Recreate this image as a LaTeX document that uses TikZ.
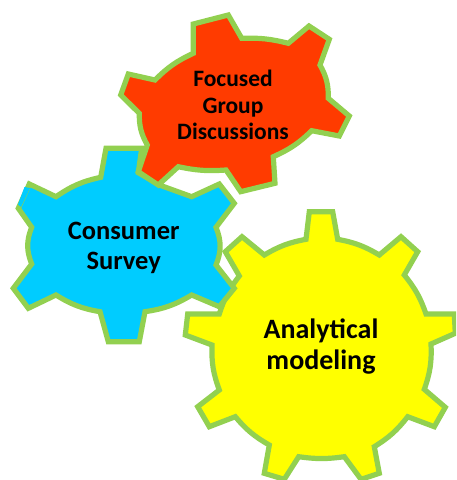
\documentclass[tikz,border=0pt]{standalone}
\usepackage{fontspec}
\setmainfont{Carlito}
\definecolor{gearrim}{HTML}{92D050}
\definecolor{gearred}{HTML}{FF3B00}
\definecolor{gearblue}{HTML}{00CCFF}
\definecolor{gearyellow}{HTML}{FFFF00}
\tikzset{
    gear/.style={draw=gearrim,line width=5.2pt,miter limit=3},
    gearlabel/.style={align=center,text=black},
}
\begin{document}
\begin{tikzpicture}[x=1pt,y=-1pt]
        \useasboundingbox (0,0) rectangle (456,480);
        \begin{scope}
        \clip (0,0) rectangle (456,480);
        % yellow gear
        \draw[gear,fill=gearyellow]
            (309.3,211.7)--(332.7,211.7)--(337.7,239.3) to[bend left=10] (379.3,255)
            --(401,236.7)--(417.7,251.7)--(404.3,275) to[bend left=10] (426,314)
            --(454.3,314)--(455.3,333.3)--(431,344) to[bend left=11] (424.3,389.3)
            --(445.3,407.3)--(434.3,426.7)--(407.7,416.7) to[bend left=10] (374.3,446.7)
            --(379.3,473.3)--(361,479.3)--(344.3,456.7) to[bend left=8] (298.7,456.7)
            --(284.3,479.3)--(264.3,473.3)--(269.3,445) to[bend left=10] (235.3,416.7)
            --(209.3,426.7)--(197.7,406.7)--(219.3,390) to[bend left=11] (212,345)
            --(185.3,335)--(187.7,314)--(219.3,314) to[bend left=10] (239.3,276)
            --(225.3,251.7)--(242,236.7)--(264.3,255) to[bend left=10] (306,239.3)--cycle;
        % blue gear
        \draw[gear,fill=gearblue]
            (106,148.3)--(141.7,148.3)--(138.3,172.7)--(159.3,185)--(191.7,196.7)
            --(219.3,184)--(234.3,203.3)--(216,227.3) to[bend left=22] (216,265)
            --(234.3,288.3)--(219.3,306.7)--(191.7,295) to[bend left=11] (145,311.7)
            --(139.3,341.7)--(108.3,341.7)--(100,311.7) to[bend left=11] (56,295)
            --(28.3,308.3)--(13.3,288.3)--(31.7,264) to[bend left=22] (31.7,227.3)
            --(18.3,208.3)--(29.3,184)--(56,196.7) to[bend left=11] (100.7,177.3)--cycle;
        \fill[gearblue] (24.5,187)--(18,204.5)--(21,207)--(30,188)--cycle;
        % red gear
        \draw[gear,fill=gearred]
            (193.3,24)--(228.3,15)--(241.7,38.3) to[bend left=8] (288.3,43.3)
            --(309,26)--(329.3,39.3)--(320,65) to[bend left=15] (328.3,98.3)
            --(349.3,116)--(339.3,136)--(311.7,130.7) to[bend left=10] (273.3,156.7)
            --(275,183.3)--(240.7,191.7)--(226,170) to[bend left=8] (178.3,166.7)
            --(158.3,185)--(138.3,171.7)--(147.3,145) to[bend left=15] (139.3,113.3)
            --(120.7,95)--(128.3,74)--(155,80) to[bend left=10] (193.3,53.3)--cycle;
        \end{scope}
        \node[gearlabel,font=\bfseries\fontsize{23.5}{26.5}\selectfont] (focus) at (233,105) {Focused\\Group\\Discussions};
        \node[gearlabel,font=\bfseries\fontsize{26.5}{30}\selectfont] (survey) at (123.7,247.5) {Consumer\\Survey};
        \node[gearlabel,font=\bfseries\fontsize{28}{31}\selectfont] (model) at (321,346.5) {Analytical\\modeling};
    \end{tikzpicture}
\end{document}
